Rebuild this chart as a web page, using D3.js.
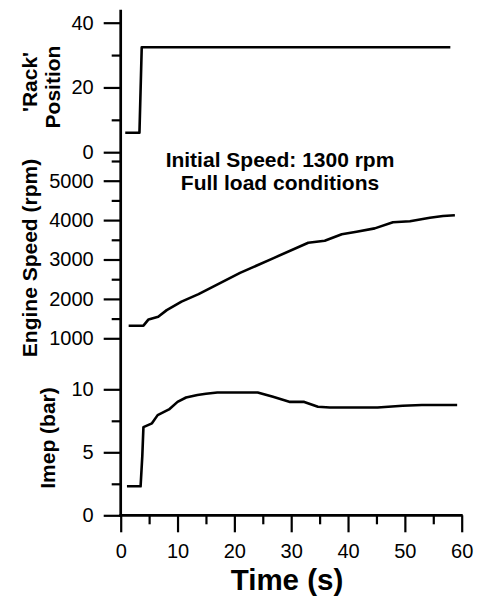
<!DOCTYPE html>
<html>
<head>
<meta charset="utf-8">
<script src="https://cdn.jsdelivr.net/npm/d3@7"></script>
<style>
  body { margin: 0; background: #fff; }
  svg text { font-family: "Liberation Sans", Arial, sans-serif; fill: #000; }
</style>
</head>
<body>
<div class="chart"></div>
<script>
// data
var rackTime = [0.8, 3.3, 3.7, 58];
var rackPos = [6, 6, 32.4, 32.4];

var speedTime = [1.4, 4.0, 4.9, 6.6, 8.1, 10.7, 13.7, 21, 26.8, 33, 35.9, 38.9, 41.5, 44.7, 47.9, 50.9, 54.4, 56.7, 58.8];
var speedRpm = [1320, 1320, 1480, 1545, 1715, 1930, 2120, 2660, 3030, 3425, 3475, 3640, 3705, 3790, 3945, 3970, 4060, 4105, 4125];

var imepTime = [1.1, 3.5, 3.8, 4.0, 5.5, 6.5, 8.5, 10, 11.5, 13.5, 15, 17, 24.1, 26.8, 29.8, 32.3, 34.7, 36.8, 45.2, 49.6, 53, 59.2];
var imepBar = [2.3, 2.3, 4.7, 7.0, 7.3, 7.95, 8.4, 9.0, 9.35, 9.55, 9.65, 9.75, 9.75, 9.4, 9.0, 9.0, 8.62, 8.55, 8.55, 8.7, 8.75, 8.75];

var xMajor = [0, 10, 20, 30, 40, 50, 60];
var xMinor = [5, 15, 25, 35, 45, 55];
var rackMajor = [0, 20, 40];
var rackMinor = [10, 30];
var speedMajor = [1000, 2000, 3000, 4000, 5000];
var speedMinor = [1500, 2500, 3500, 4500, 5500];
var imepMajor = [0, 5, 10];
var imepMinor = [2.5, 7.5];

var titleLines = ["Initial Speed: 1300 rpm", "Full load conditions"];

var svgWidth = 480;
var svgHeight = 598;

var svg = d3.select(".chart")
  .append("svg")
  .attr("width", svgWidth)
  .attr("height", svgHeight);

// scales
var x = d3.scaleLinear().domain([0, 60]).range([120.7, 461.7]);
var yRack = d3.scaleLinear().domain([0, 40]).range([152.2, 22.7]);
var ySpeed = d3.scaleLinear().domain([1000, 5000]).range([338.3, 180.7]);
var yImep = d3.scaleLinear().domain([0, 10]).range([515.3, 389.3]);

var MAJ = 17, MIN = 9;

function yAxis(scale, major, minor) {
  var g = svg.append("g").attr("transform", "translate(" + x(0) + ",0)");
  g.call(d3.axisLeft(scale).tickValues(major).tickSize(MAJ).tickPadding(10).tickFormat(d3.format("d")));
  var g2 = svg.append("g").attr("transform", "translate(" + x(0) + ",0)");
  g2.call(d3.axisLeft(scale).tickValues(minor).tickSize(MIN).tickFormat(""));
  [g, g2].forEach(function(a) {
    a.select(".domain").remove();
    a.selectAll("line").attr("stroke", "#000").attr("stroke-width", 2.2);
    a.selectAll("text").attr("font-size", 20);
  });
}

yAxis(yRack, rackMajor, rackMinor);
yAxis(ySpeed, speedMajor, speedMinor);
yAxis(yImep, imepMajor, imepMinor);

// x axis
var xg = svg.append("g").attr("transform", "translate(0," + yImep(0) + ")");
xg.call(d3.axisBottom(x).tickValues(xMajor).tickSize(MAJ).tickPadding(12));
var xg2 = svg.append("g").attr("transform", "translate(0," + yImep(0) + ")");
xg2.call(d3.axisBottom(x).tickValues(xMinor).tickSize(MIN).tickFormat(""));
[xg, xg2].forEach(function(a) {
  a.select(".domain").remove();
  a.selectAll("line").attr("stroke", "#000").attr("stroke-width", 2.2);
  a.selectAll("text").attr("font-size", 20);
});

// shared axis lines
svg.append("line")
  .attr("x1", x(0)).attr("x2", x(0))
  .attr("y1", yRack(44)).attr("y2", yImep(0) + 1.3)
  .attr("stroke", "#000").attr("stroke-width", 2.7);
svg.append("line")
  .attr("x1", x(0) - 1.3).attr("x2", x(60) + 1)
  .attr("y1", yImep(0)).attr("y2", yImep(0))
  .attr("stroke", "#000").attr("stroke-width", 2.7);

// lines
function drawLine(ts, vs, yScale) {
  var pts = ts.map(function(t, i) { return [t, vs[i]]; });
  svg.append("path")
    .datum(pts)
    .attr("fill", "none")
    .attr("stroke", "#000")
    .attr("stroke-width", 2.6)
    .attr("stroke-linejoin", "round")
    .attr("d", d3.line().x(d => x(d[0])).y(d => yScale(d[1])));
}
drawLine(rackTime, rackPos, yRack);
drawLine(speedTime, speedRpm, ySpeed);
drawLine(imepTime, imepBar, yImep);

// y labels
function yLabel(txt, tx, ty) {
  svg.append("text")
    .attr("transform", "translate(" + tx + "," + ty + ") rotate(-90)")
    .attr("text-anchor", "middle")
    .attr("font-size", 21)
    .attr("font-weight", "bold")
    .text(txt);
}
yLabel("'Rack'", 37, 82);
yLabel("Position", 60, 87);
yLabel("Engine Speed (rpm)", 36.5, 258);
yLabel("Imep (bar)", 55, 438);

// annotation
titleLines.forEach(function(t, i) {
  svg.append("text")
    .attr("x", 280)
    .attr("y", 166.5 + i * 23)
    .attr("text-anchor", "middle")
    .attr("font-size", 21)
    .attr("font-weight", "bold")
    .text(t);
});

// x label
svg.append("text")
  .attr("x", 287)
  .attr("y", 590)
  .attr("text-anchor", "middle")
  .attr("font-size", 29.5)
  .attr("font-weight", "bold")
  .text("Time (s)");
</script>
</body>
</html>
